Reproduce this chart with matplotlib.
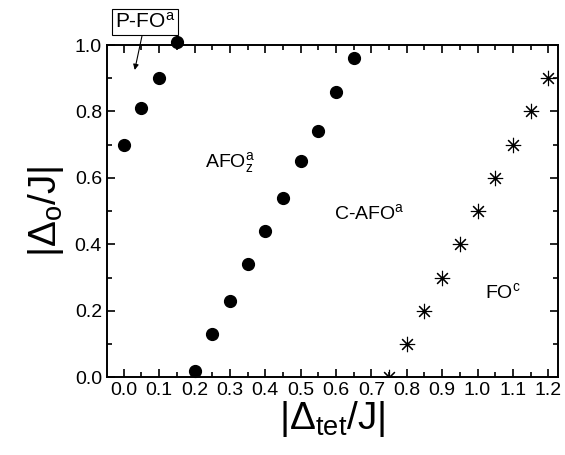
import matplotlib.pyplot as plt
from matplotlib.ticker import MultipleLocator

plt.rcParams["font.family"] = ["Liberation Sans", "DejaVu Sans"]
plt.rcParams["mathtext.fontset"] = "custom"
plt.rcParams["mathtext.rm"] = "Liberation Sans"
plt.rcParams["mathtext.it"] = "Liberation Sans"
plt.rcParams["mathtext.bf"] = "Liberation Sans:bold"

# P-FO / AFO boundary (filled circles)
pfo_x = [0.0, 0.05, 0.10, 0.15]
pfo_y = [0.70, 0.81, 0.90, 1.01]
afo_x = [0.20, 0.25, 0.30, 0.35, 0.40, 0.45, 0.50, 0.55, 0.60, 0.65]
afo_y = [0.02, 0.13, 0.23, 0.34, 0.44, 0.54, 0.65, 0.74, 0.86, 0.96]
# C-AFO / FO boundary (asterisks)
fo_x = [0.75, 0.80, 0.85, 0.90, 0.95, 1.00, 1.05, 1.10, 1.15, 1.20]
fo_y = [0.00, 0.10, 0.20, 0.30, 0.40, 0.50, 0.60, 0.70, 0.80, 0.90]

fig = plt.figure(figsize=(5.65, 4.55), dpi=100)
ax = fig.add_axes([0.189, 0.171, 0.799, 0.730])

ax.plot(pfo_x + afo_x, pfo_y + afo_y, "o", color="black", ms=8.5,
        clip_on=False, zorder=3)
ax.plot(fo_x, fo_y, linestyle="none", marker=(8, 2, 0), color="black",
        ms=11, mew=0.8, zorder=3)

ax.set_xlim(-0.048, 1.228)
ax.set_ylim(0.0, 1.0)
ax.xaxis.set_major_locator(MultipleLocator(0.1))
ax.xaxis.set_minor_locator(MultipleLocator(0.05))
ax.yaxis.set_major_locator(MultipleLocator(0.2))
ax.yaxis.set_minor_locator(MultipleLocator(0.1))
ax.xaxis.set_major_formatter(plt.FormatStrFormatter("%.1f"))
ax.yaxis.set_major_formatter(plt.FormatStrFormatter("%.1f"))
ax.tick_params(which="both", direction="in", top=True, right=True,
               labelsize=14, width=1.2)
ax.tick_params(which="major", length=6)
ax.tick_params(which="minor", length=3.5)
for s in ax.spines.values():
    s.set_linewidth(1.4)

ax.set_xlabel(r"$|\Delta_{tet}/J|$", fontsize=28, labelpad=0)
ax.set_ylabel(r"$|\Delta_{o}/J|$", fontsize=28, labelpad=6)

ax.text(0.23, 0.645, r"AFO$^{a}_{z}$", fontsize=14, va="center")
ax.text(0.593, 0.494, r"C-AFO$^{a}$", fontsize=14, va="center")
ax.text(1.02, 0.256, r"FO$^{c}$", fontsize=14, va="center")

ax.annotate(r"P-FO$^{a}$", xy=(0.031, 0.925), xytext=(0.06, 1.07),
            fontsize=15, ha="center", va="center", annotation_clip=False,
            bbox=dict(boxstyle="square,pad=0.15", fc="white", ec="black", lw=0.8),
            arrowprops=dict(arrowstyle="-|>", color="black", lw=0.8,
                            mutation_scale=8, shrinkA=0, shrinkB=0))

fig.savefig("out.png", dpi=100)
